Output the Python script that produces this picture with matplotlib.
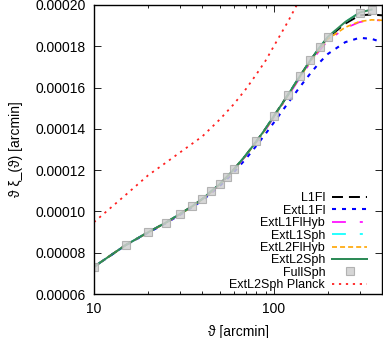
import numpy as np
import matplotlib
matplotlib.use("Agg")
import matplotlib.pyplot as plt
from matplotlib.ticker import FormatStrFormatter, FixedLocator, NullFormatter

plt.rcParams['font.family'] = ['Liberation Sans', 'DejaVu Sans']
plt.rcParams['lines.scale_dashes'] = False

# theta grid [arcmin]
theta = [10, 15, 20, 25, 30, 35, 40, 45, 50, 55, 60, 70, 80, 90, 100,
         120, 140, 160, 180, 200, 250, 300, 350, 400]
theta_sph = theta[:-1]

# theta * xi_-(theta), units 1e-5
l1fl = [7.32, 8.37, 8.99, 9.45, 9.87, 10.24, 10.60, 10.98, 11.32, 11.68, 12.04, 12.73, 13.39, 14.01, 14.61,
        15.65, 16.56, 17.33, 17.93, 18.42, 19.10, 19.50, 19.54, 19.50]
extl1fl = [7.32, 8.36, 8.97, 9.42, 9.83, 10.19, 10.53, 10.90, 11.23, 11.57, 11.90, 12.55, 13.18, 13.76, 14.30,
           15.25, 16.04, 16.69, 17.22, 17.63, 18.20, 18.41, 18.36, 18.20]
extl1flhyb = [7.32, 8.37, 8.98, 9.43, 9.85, 10.21, 10.57, 10.94, 11.28, 11.63, 12.01, 12.69, 13.34, 13.95, 14.55,
              15.58, 16.48, 17.22, 17.80, 18.28, 18.88, 19.17, 19.27, 19.25]
extl2flhyb = [7.32, 8.37, 8.98, 9.44, 9.86, 10.22, 10.58, 10.95, 11.30, 11.65, 12.03, 12.71, 13.36, 13.97, 14.58,
              15.62, 16.52, 17.27, 17.86, 18.35, 18.92, 19.20, 19.28, 19.26]
extl1sph = [7.32, 8.37, 8.99, 9.45, 9.87, 10.24, 10.60, 10.98, 11.32, 11.68, 12.04, 12.73, 13.39, 14.01, 14.61,
            15.65, 16.56, 17.33, 17.95, 18.46, 19.18, 19.63, 19.78]
extl2sph = [7.32, 8.37, 8.99, 9.45, 9.87, 10.24, 10.60, 10.98, 11.32, 11.68, 12.04, 12.73, 13.39, 14.01, 14.61,
            15.65, 16.56, 17.33, 17.95, 18.46, 19.18, 19.63, 19.78]

theta_full = [10, 15, 20, 25, 30, 35, 40, 45, 50, 55, 60, 80, 100, 120, 140, 160, 180, 200, 300, 350]
fullsph = [7.32, 8.37, 8.99, 9.45, 9.87, 10.24, 10.60, 10.98, 11.32, 11.68, 12.04, 13.39, 14.61, 15.65,
           16.56, 17.33, 17.95, 18.46, 19.63, 19.78]

theta_planck = [10, 15, 20, 25, 30, 40, 50, 60, 70, 80, 90, 100, 120, 140]
planck = [9.48, 10.80, 11.75, 12.35, 12.85, 13.63, 14.45, 15.20, 15.93, 16.64, 17.30, 18.00, 19.20, 20.30]

y_ticks = [0.00006, 0.00008, 0.00010, 0.00012, 0.00014, 0.00016, 0.00018, 0.00020]


def s(v):
    return np.array(v) * 1e-5


fig = plt.figure(figsize=(3.83, 3.38), dpi=100)
ax = fig.add_axes([94 / 383, 1 - 294 / 338, 288 / 383, 289 / 338])

ax.plot(theta, s(l1fl), color='black', lw=1.44, dashes=(7.9, 4.3), label='L1Fl')
ax.plot(theta, s(extl1fl), color='#0000ff', lw=1.5, dashes=(2.9, 4.3), label='ExtL1Fl')
ax.plot(theta, s(extl1flhyb), color='#ff00ff', lw=1.2, dashes=(10, 10, 2.2, 10), label='ExtL1FlHyb')
ax.plot(theta_sph, s(extl1sph), color='#00ffff', lw=1.2, dashes=(10, 10, 2.2, 10), label='ExtL1Sph')
ax.plot(theta, s(extl2flhyb), color='#ffa500', lw=1.2, dashes=(3.6, 2.2), label='ExtL2FlHyb')
ax.plot(theta_sph, s(extl2sph), color='#2e8b57', lw=1.44, label='ExtL2Sph')
ax.plot(theta_full, s(fullsph), ls='none', marker='s', ms=5.5, mfc='#cfcfcf', mec='#a8a8a8',
        mew=0.8, alpha=0.85, label='FullSph')
ax.plot(theta_planck, s(planck), color='#ff2020', lw=1.3, dashes=(1.6, 3.4), label='ExtL2Sph Planck')

ax.set_xscale('log')
ax.set_xlim(10, 400)
ax.set_ylim(0.00006, 0.00020)
ax.set_yticks(y_ticks)
ax.yaxis.set_major_formatter(FormatStrFormatter('%.5f'))
ax.xaxis.set_major_locator(FixedLocator([10, 100]))
ax.xaxis.set_major_formatter(FormatStrFormatter('%d'))
ax.xaxis.set_minor_locator(FixedLocator([20, 30, 40, 50, 60, 70, 80, 90, 200, 300]))
ax.xaxis.set_minor_formatter(NullFormatter())
ax.tick_params(which='both', direction='in', top=True, right=True, labelsize=10, width=0.6)
ax.tick_params(which='major', length=5, pad=6)
ax.tick_params(which='minor', length=2.5)
for sp in ax.spines.values():
    sp.set_linewidth(1.0)

ax.set_xlabel('ϑ [arcmin]', fontsize=10, labelpad=6)
ax.set_ylabel('ϑ ξ_(ϑ) [arcmin]', fontsize=10, labelpad=9)

ax.legend(loc='lower right', bbox_to_anchor=(0.948, 0.01), frameon=False, markerfirst=False,
          fontsize=9, handlelength=2.8, handletextpad=0.55, labelspacing=0.03,
          borderpad=0, borderaxespad=0)

plt.savefig('out.png', dpi=100)
